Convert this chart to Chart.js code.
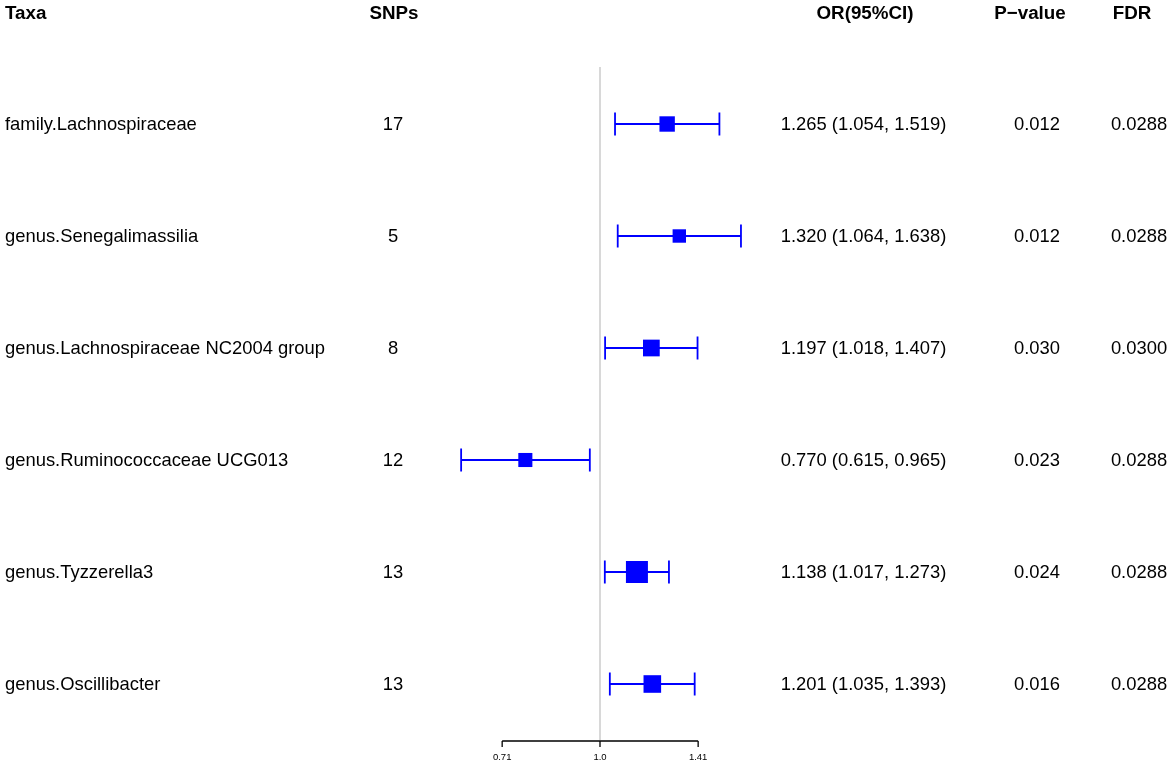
<!DOCTYPE html>
<html>
<head>
<meta charset="utf-8">
<title>Forest plot — gut microbiota taxa</title>
<script src="https://cdn.jsdelivr.net/npm/chart.js@4.4.1/dist/chart.umd.min.js"></script>
<style>
  html, body { margin: 0; padding: 0; background: #fff; }
  #wrap { position: relative; width: 1170px; height: 765px; }
</style>
</head>
<body>
<div id="wrap"><canvas id="forest"></canvas></div>
<script>
// ---------------------------------------------------------------------------
// Data
// ---------------------------------------------------------------------------
const taxa = [
  'family.Lachnospiraceae',
  'genus.Senegalimassilia',
  'genus.Lachnospiraceae NC2004 group',
  'genus.Ruminococcaceae UCG013',
  'genus.Tyzzerella3',
  'genus.Oscillibacter',
];
const snps   = [17, 5, 8, 12, 13, 13];
const orVal  = [1.265, 1.320, 1.197, 0.770, 1.138, 1.201];
const ciLow  = [1.054, 1.064, 1.018, 0.615, 1.017, 1.035];
const ciHigh = [1.519, 1.638, 1.407, 0.965, 1.273, 1.393];
const pval   = ['0.012', '0.012', '0.030', '0.023', '0.024', '0.016'];
const fdr    = ['0.0288', '0.0288', '0.0300', '0.0288', '0.0288', '0.0288'];
// relative box weight (largest = 1)
const boxWeight = [0.70, 0.61, 0.76, 0.64, 1.0, 0.80];
const xTicks = [0.71, 1.0, 1.41];
const xTickLabels = ['0.71', '1.0', '1.41'];
const headers = ['Taxa', 'SNPs', 'OR(95%CI)', 'P\u2212value', 'FDR'];

// ---------------------------------------------------------------------------
// Styling
// ---------------------------------------------------------------------------
const C = {
  box:  '#0000ff',
  ref:  '#cfcfcf',
  ink:  '#000000',
};
const FONT = '"Liberation Sans", Arial, Helvetica, sans-serif';
const MAX_BOX = 22;     // px side of the heaviest box
const CAP = 11.5;       // half height of the CI whisker caps

// column anchors: header x, value x, alignment
const COLS = [
  { hx: 5,    vx: 5,     align: 'left'   },
  { hx: 394,  vx: 393,   align: 'center' },
  { hx: 865,  vx: 863.5, align: 'center' },
  { hx: 1030, vx: 1037,  align: 'center' },
  { hx: 1132, vx: 1139,  align: 'center' },
];

function orText(i){
  return `${orVal[i].toFixed(3)} (${ciLow[i].toFixed(3)}, ${ciHigh[i].toFixed(3)})`;
}

// ---------------------------------------------------------------------------
// Plugin: reference line, CI whiskers, table text, bottom axis
// ---------------------------------------------------------------------------
const forestPlugin = {
  id: 'forest',
  beforeDatasetsDraw(chart){
    const { ctx, chartArea, scales: { x, y } } = chart;
    ctx.save();

    // null line at OR = 1
    const x1 = Math.round(x.getPixelForValue(1.0));
    ctx.strokeStyle = C.ref;
    ctx.lineWidth = 1.6;
    ctx.beginPath();
    ctx.moveTo(x1, chartArea.top - 1);
    ctx.lineTo(x1, chartArea.bottom);
    ctx.stroke();

    // whiskers
    ctx.strokeStyle = C.box;
    ctx.lineWidth = 1.8;
    orVal.forEach((_, i) => {
      const yy = y.getPixelForValue(i);
      const xl = x.getPixelForValue(ciLow[i]);
      const xh = x.getPixelForValue(ciHigh[i]);
      ctx.beginPath();
      ctx.moveTo(xl, yy); ctx.lineTo(xh, yy);
      ctx.moveTo(xl, yy - CAP); ctx.lineTo(xl, yy + CAP);
      ctx.moveTo(xh, yy - CAP); ctx.lineTo(xh, yy + CAP);
      ctx.stroke();
    });
    ctx.restore();
  },
  afterDraw(chart){
    const { ctx, chartArea, scales: { x, y } } = chart;
    ctx.save();
    ctx.fillStyle = C.ink;
    ctx.textBaseline = 'middle';

    // headers
    ctx.font = `bold 18.8px ${FONT}`;
    headers.forEach((h, c) => {
      ctx.textAlign = COLS[c].align;
      ctx.fillText(h, COLS[c].hx, 14);
    });

    // rows
    ctx.font = `18.4px ${FONT}`;
    taxa.forEach((t, i) => {
      const yy = y.getPixelForValue(i) + 0.5;
      const cells = [t, String(snps[i]), orText(i), pval[i], fdr[i]];
      cells.forEach((s, c) => {
        ctx.textAlign = COLS[c].align;
        ctx.fillText(s, COLS[c].vx, yy);
      });
    });

    // bottom axis, only across the tick range
    const ay = chartArea.bottom + 1;
    const xa = x.getPixelForValue(xTicks[0]);
    const xb = x.getPixelForValue(xTicks[xTicks.length - 1]);
    ctx.strokeStyle = C.ink;
    ctx.lineWidth = 1.3;
    ctx.beginPath();
    ctx.moveTo(xa, ay); ctx.lineTo(xb, ay);
    xTicks.forEach(v => {
      const px = x.getPixelForValue(v);
      ctx.moveTo(px, ay); ctx.lineTo(px, ay + 6);
    });
    ctx.stroke();

    ctx.font = `9.5px ${FONT}`;
    ctx.textAlign = 'center';
    xTicks.forEach((v, k) => {
      ctx.fillText(xTickLabels[k], x.getPixelForValue(v), ay + 16);
    });
    ctx.restore();
  },
};

// ---------------------------------------------------------------------------
// Chart
// ---------------------------------------------------------------------------
new Chart(document.getElementById('forest'), {
  type: 'scatter',
  data: {
    datasets: [{
      data: orVal.map((v, i) => ({ x: v, y: i })),
      pointStyle: 'rect',
      pointRadius: boxWeight.map(w => w * MAX_BOX / Math.SQRT2),
      pointHoverRadius: boxWeight.map(w => w * MAX_BOX / Math.SQRT2),
      backgroundColor: C.box,
      borderWidth: 0,
    }],
  },
  options: {
    responsive: true,
    maintainAspectRatio: false,
    animation: false,
    layout: { padding: { left: 402, right: 372, top: 68, bottom: 25 } },
    plugins: { legend: { display: false }, tooltip: { enabled: false } },
    scales: {
      x: { type: 'logarithmic', min: 0.5, max: 2, bounds: 'data', display: false },
      y: { type: 'linear', min: -0.5, max: 5.5, reverse: true, display: false },
    },
  },
  plugins: [forestPlugin],
});
</script>
</body>
</html>
